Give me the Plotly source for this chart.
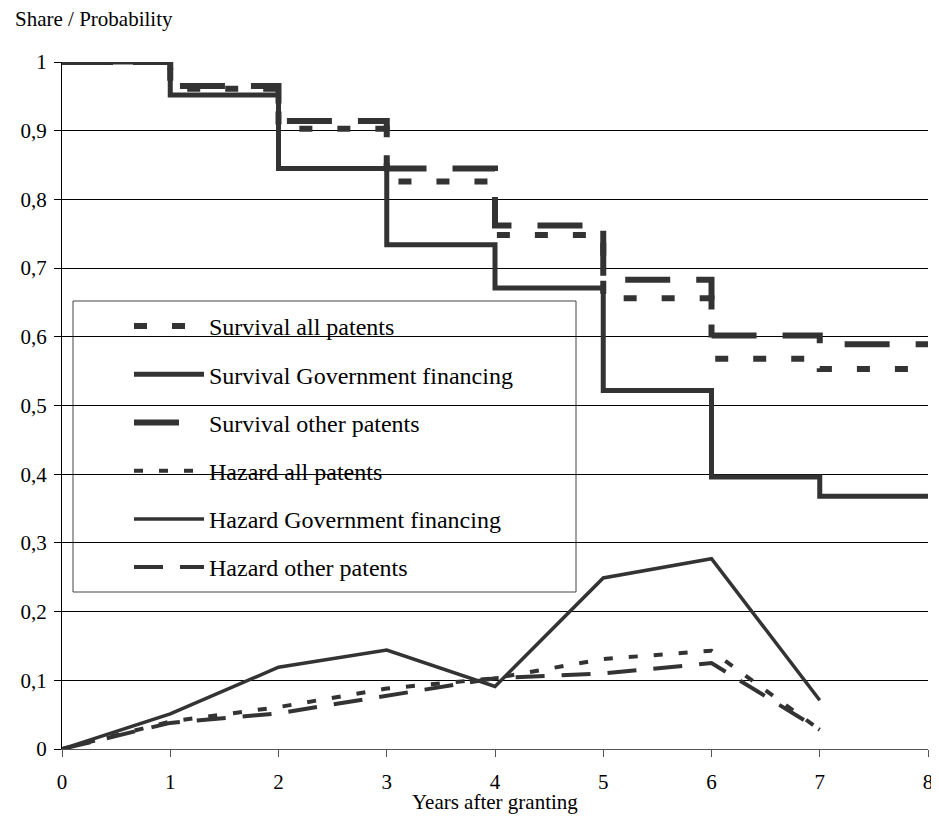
import plotly.graph_objects as go

# ---- data ----
years = [0, 1, 2, 3, 4, 5, 6, 7, 8]
# survival step values: value held on [t, t+1); last entry closes the step at 8
surv_all = [1.0, 0.961, 0.903, 0.826, 0.748, 0.656, 0.568, 0.553, 0.553]
surv_gov = [1.0, 0.952, 0.845, 0.734, 0.671, 0.522, 0.396, 0.368, 0.368]
surv_other = [1.0, 0.965, 0.914, 0.845, 0.762, 0.683, 0.602, 0.589, 0.589]

haz_years = [0, 1, 2, 3, 4, 5, 6, 7]
haz_all = [0.0, 0.040, 0.061, 0.088, 0.103, 0.131, 0.143, 0.028]
haz_gov = [0.0, 0.051, 0.119, 0.144, 0.091, 0.249, 0.277, 0.071]
haz_other = [0.0, 0.038, 0.052, 0.078, 0.103, 0.110, 0.125, 0.028]

names = ["Survival all patents", "Survival Government financing", "Survival other patents",
         "Hazard all patents", "Hazard Government financing", "Hazard other patents"]

y_tickvals = [0, 0.1, 0.2, 0.3, 0.4, 0.5, 0.6, 0.7, 0.8, 0.9, 1.0]
y_ticktext = ["0", "0,1", "0,2", "0,3", "0,4", "0,5", "0,6", "0,7", "0,8", "0,9", "1"]
x_tickvals = [0, 1, 2, 3, 4, 5, 6, 7, 8]

C = "#333333"
FONT = "Liberation Serif, Times New Roman, serif"

fig = go.Figure()

def add(x, y, name, width, dash, shape, grp):
    fig.add_trace(go.Scatter(
        x=x, y=y, name=name, mode="lines",
        line=dict(color=C, width=width, dash=dash, shape=shape),
        legendgroup=grp, hoverinfo="skip"))

add(years, surv_all, names[0], 6, "13px,25px", "hv", "g0")
add(years, surv_gov, names[1], 5, "solid", "hv", "g1")
add(years, surv_other, names[2], 6, "45px,26px", "hv", "g2")
add(haz_years, haz_all, names[3], 4, "9px,16px", "linear", "g3")
add(haz_years, haz_gov, names[4], 3.5, "solid", "linear", "g4")
add(haz_years, haz_other, names[5], 4, "29px,17px", "linear", "g5")

# page has an 8px body margin: figure origin sits at page (8, 8)
OFF = 8
W, H = 923, 820
PL, PR, PT, PB = 62, 928, 62, 749          # plot area in page pixels
L, T = PL - OFF, PT - OFF
R = (OFF + W) - PR
B = (OFF + H) - PB
pw, ph = PR - PL, PB - PT

def px(xp):
    return (xp - PL) / pw

def py(yp):
    return (PB - yp) / ph

fig.update_layout(
    width=W, height=H, autosize=False,
    margin=dict(l=L, r=R, t=T, b=B, pad=0, autoexpand=False),
    paper_bgcolor="white", plot_bgcolor="white",
    font=dict(family=FONT, size=21, color="black"),
    showlegend=True,
    legend=dict(
        x=px(129), y=py(304), xanchor="left", yanchor="top",
        bgcolor="rgba(0,0,0,0)", borderwidth=0,
        font=dict(family=FONT, size=24, color="black"),
        itemwidth=70, tracegroupgap=14, traceorder="grouped",
    ),
    xaxis=dict(
        range=[0, 8], tickvals=x_tickvals, ticks="outside", ticklen=7,
        tickcolor="#555", showline=True, linecolor="#555", linewidth=1,
        showgrid=False, zeroline=False, tickfont=dict(size=21),
        ticklabelstandoff=7, ticklabeloverflow="allow", automargin=False,
    ),
    yaxis=dict(
        range=[0, 1], tickvals=y_tickvals, ticktext=y_ticktext,
        ticks="outside", ticklen=7, tickcolor="black",
        showline=True, linecolor="black", linewidth=1,
        showgrid=True, gridcolor="black", gridwidth=1,
        zeroline=False, tickfont=dict(size=21), ticklabelstandoff=3,
        automargin=False,
    ),
    shapes=[dict(type="rect", xref="paper", yref="paper",
                 x0=px(73), x1=px(576), y0=py(592), y1=py(301),
                 line=dict(color="#444", width=1), fillcolor="white",
                 layer="between")],
    annotations=[
        dict(text="Share / Probability", xref="paper", yref="paper",
             x=px(13), y=py(19), xanchor="left", yanchor="middle",
             showarrow=False, font=dict(family=FONT, size=21)),
        dict(text="Years after granting", xref="paper", yref="paper",
             x=0.5, y=py(802), xanchor="center", yanchor="middle",
             showarrow=False, font=dict(family=FONT, size=21)),
    ],
)

fig.write_html(
    "out.html",
    config={"displayModeBar": False},
    post_script=(
        "document.querySelectorAll('svg.main-svg').forEach(function(s){s.style.overflow='visible';});"
    ),
)
